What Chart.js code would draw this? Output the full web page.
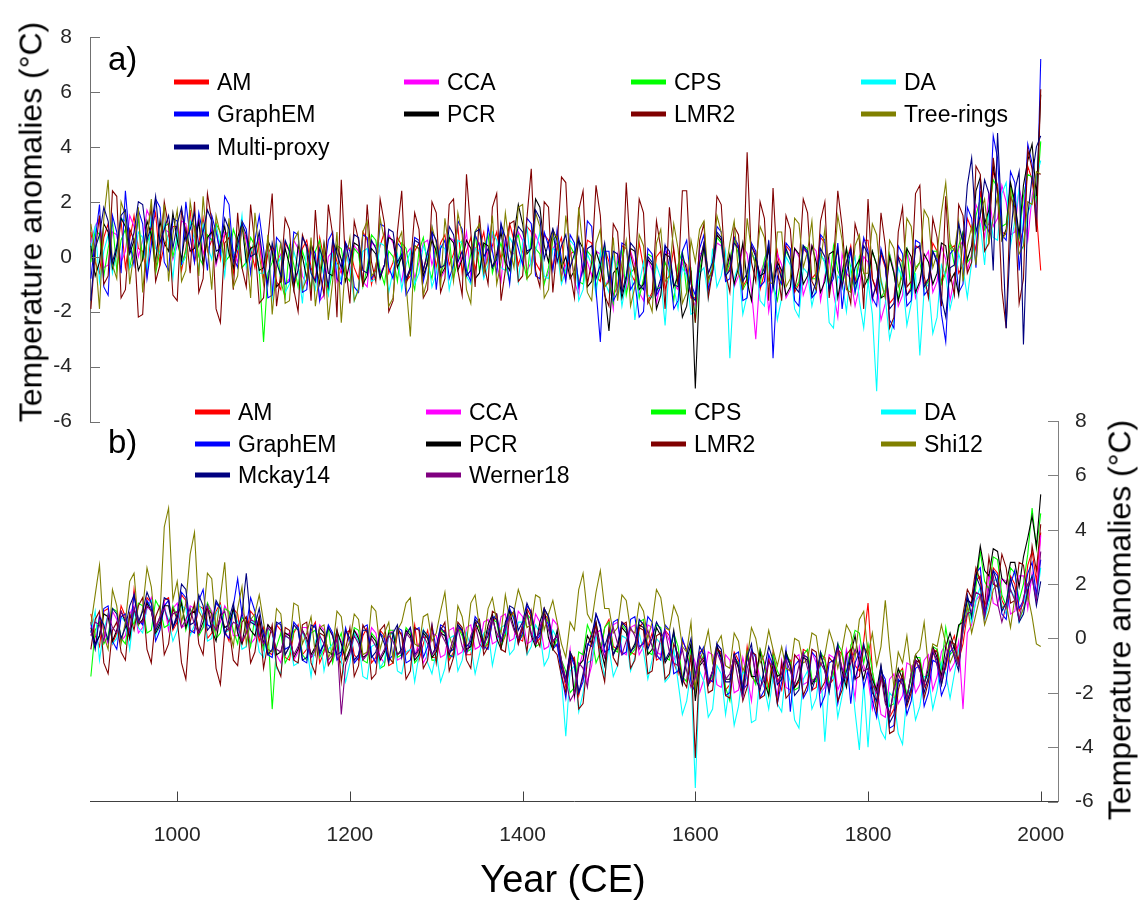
<!DOCTYPE html>
<html lang="en">
<head>
  <meta charset="UTF-8" />
  <title>Temperature anomalies reconstructions</title>
  <script src="https://cdn.jsdelivr.net/npm/chart.js"></script>
  <style>
    body { margin: 0; background: #fff; font-family: "Liberation Sans", Arial, Helvetica, sans-serif; }
    #page { position: relative; width: 1143px; height: 901px; overflow: hidden; }
    #page canvas { position: absolute; left: 0; top: 0; }
    .txt { position: absolute; color: #000; white-space: nowrap; }
    .rot { transform: translate(-50%, -50%) rotate(-90deg); }
    .leg { position: absolute; display: flex; align-items: center; font-size: 23px; color: #000; white-space: nowrap; transform: translateY(-50%); }
    .leg i { display: inline-block; width: 35px; height: 5px; margin-right: 8px; }
  </style>
</head>
<body>
<div id="page">
  <canvas id="chartA" width="1143" height="901"></canvas>
  <canvas id="chartB" width="1143" height="901"></canvas>
  <div class="txt" style="left:108px; top:40px; font-size:33px;">a)</div>
  <div class="txt" style="left:108px; top:423px; font-size:33px;">b)</div>
  <div class="txt rot" style="left:31px; top:222px; font-size:32px;">Temperature anomalies (°C)</div>
  <div class="txt rot" style="left:1120px; top:620px; font-size:32px;">Temperature anomalies (°C)</div>
  <div class="txt" style="left:563px; top:858px; font-size:38px; transform:translateX(-50%);">Year (CE)</div>
</div>

<script>
  // 5-year samples, 900 .. 2000 CE (221 values per series, one row = one century)
  const years = Array.from({ length: 221 }, (_, i) => 900 + 5 * i);
  const xTicks = [1000, 1200, 1400, 1600, 1800, 2000];
  const yTicks = [-6, -4, -2, 0, 2, 4, 6, 8];

  // ---- panel a ----
  const namesA = ['AM', 'CCA', 'CPS', 'DA', 'GraphEM', 'PCR', 'LMR2', 'Tree-rings', 'Multi-proxy'];
  const colorsA = ['#ff0000', '#ff00ff', '#00ff00', '#00ffff', '#0000ff', '#000000', '#800000', '#808000', '#000080'];

  const aAM = [0.9,-0.2,-0.6,0.7,1.2,-0.5,0.1,1.3,-0.4,0.6,1.5,0.3,0.2,-0.7,1.0,1.6,-0.3,0.4,0.8,1.1,
    1.1,-0.5,0.3,1.7,-0.2,0.5,1.4,0.2,0.6,1.2,-0.1,0.8,0.9,-0.6,0.2,1.0,0.7,0.3,-0.4,0.6,
    -0.8,0.1,0.4,-0.9,-1.2,0.5,0.2,-1.1,-0.5,0.3,0.6,-0.4,-0.9,0.7,-0.1,-1.3,0.5,-0.2,-0.6,0.4,
    0.3,-0.4,-0.8,0.9,0.6,-1.0,-0.3,0.4,0.9,-0.6,-0.2,0.7,0.4,-0.9,-0.7,0.2,0.5,-0.5,0.1,0.8,
    -0.4,0.5,0.8,-0.3,0.1,1.1,-0.6,0.2,0.7,-0.5,0.3,0.9,-0.2,0.4,0.9,-0.1,0.4,1.2,0.6,-0.3,
    0.2,1.1,0.9,-0.2,-0.5,0.8,0.6,-0.4,0.3,0.7,-0.8,0.1,0.2,-1.0,-0.4,0.6,0.5,-0.7,-0.9,0.3,
    -0.2,-1.4,-1.1,0.4,0.3,-0.6,-0.9,0.5,-0.4,-1.6,-1.3,0.0,0.2,-1.2,-0.7,0.3,-1.0,-0.1,-0.3,-1.5,
    -1.5,-0.2,0.5,-0.6,-0.3,0.8,0.6,-0.7,-0.4,0.7,0.3,-1.1,-0.8,0.4,0.1,-1.2,-0.6,0.3,-1.0,0.2,
    -0.9,0.4,0.2,-1.3,-1.0,0.3,0.1,-0.8,-0.6,0.7,0.5,-1.2,-0.3,0.2,-1.1,-0.2,0.4,-0.9,-0.2,0.6,
    0.6,-0.8,-1.2,0.1,-0.4,-1.7,-1.5,0.0,-0.2,-1.4,-1.1,0.4,0.3,-1.0,-0.8,0.5,0.2,-0.9,-0.5,0.3,
    0.4,-0.6,-0.3,1.4,1.0,0.2,2.4,1.0,1.2,3.1,2.6,0.9,0.8,2.5,2.1,0.4,1.0,3.3,2.8,1.6,
    -0.5];
  const aCCA = [0.5,1.1,1.4,-0.4,-0.3,0.9,0.8,-0.2,0.2,1.5,1.1,0.0,0.6,1.7,1.3,0.4,0.0,1.0,0.9,-0.1,
    0.4,1.3,1.2,0.2,0.7,1.4,0.1,0.6,1.0,-0.3,0.3,0.9,0.8,0.2,-0.2,1.1,0.6,-0.1,0.3,0.7,
    -0.5,0.4,-1.3,-0.2,0.1,-1.0,-0.8,0.6,0.3,-0.7,-1.0,0.2,-0.2,-1.6,-1.4,0.0,0.2,-0.9,-0.4,0.5,
    -0.6,0.4,0.2,-0.9,-1.1,0.5,0.4,-0.6,-0.3,0.8,0.5,-0.4,-0.9,0.1,0.3,-0.8,-0.2,0.5,0.6,-0.3,
    0.3,-0.8,-0.5,0.7,0.6,-0.4,0.0,0.9,-0.7,0.3,0.5,-0.6,0.2,0.8,-0.3,-0.9,0.7,0.2,0.1,0.9,
    0.6,-0.5,-0.2,0.8,0.4,-0.9,-0.6,0.3,0.5,-0.7,-0.3,0.4,-0.9,-1.4,0.3,-0.2,-0.7,0.2,0.1,-1.1,
    -0.8,-1.9,0.1,-0.4,-1.2,0.2,-0.3,-1.3,-1.6,-0.1,-0.5,-1.7,-0.9,0.2,0.1,-1.0,-1.2,-0.2,-0.6,-1.4,
    -1.8,0.1,0.2,-1.0,-0.6,0.5,0.4,-0.8,0.0,-1.1,-0.7,0.4,0.1,-1.2,-3.0,-0.6,-0.2,-2.0,-0.9,0.1,
    -0.3,-1.5,-1.2,0.3,0.0,-1.4,-0.9,0.4,0.2,-1.6,-0.7,-0.1,-1.3,-2.2,0.1,-0.6,-0.8,-1.8,-1.1,0.0,
    -0.2,-1.6,-0.9,-2.3,-1.7,0.1,-0.5,-1.8,-1.4,0.2,-0.3,-1.5,-1.0,-0.1,0.2,-1.3,-0.9,0.4,-0.1,-1.6,
    -0.8,0.3,0.6,-0.5,0.1,1.9,1.5,0.7,2.3,1.1,1.4,2.6,2.0,0.8,0.9,2.5,1.8,0.6,2.2,3.0,
    3.0];
  const aCPS = [-0.2,1.0,0.8,-0.7,0.3,1.3,-0.5,0.6,1.0,-0.4,0.4,1.4,-0.1,0.5,0.9,-0.6,0.2,1.1,1.2,0.0,
    0.7,-0.3,0.2,1.3,1.1,0.0,-0.3,0.8,0.6,1.2,0.9,-0.2,0.0,1.0,0.5,-0.4,-0.2,0.7,0.4,-0.5,
    -3.1,-0.6,-0.2,0.5,-0.9,-1.5,0.4,-0.3,-1.1,0.2,-0.3,-1.2,0.2,0.6,-0.8,-1.3,-0.5,0.4,0.3,-0.7,
    -0.9,0.3,0.1,-1.1,-0.4,0.8,0.6,-0.5,-1.0,0.2,0.0,-0.9,0.5,0.3,-0.6,-1.2,0.2,0.7,-0.3,-0.8,
    0.4,-0.6,-0.2,0.7,-0.8,-0.1,0.6,-0.7,0.1,0.9,-0.5,0.3,0.8,-0.6,0.0,0.5,-0.3,-0.9,0.5,0.8,
    -0.1,-0.8,0.7,0.3,0.1,-1.0,-0.4,0.6,0.8,-0.3,-0.6,0.4,0.1,-0.9,-1.0,0.2,0.0,-1.1,-0.5,0.4,
    -0.9,-1.7,-0.2,0.3,-1.4,-0.6,-0.4,-1.5,-0.8,0.1,0.0,-1.2,-1.1,-0.2,-0.6,-1.6,-0.3,0.2,-1.3,-0.5,
    -2.4,-0.5,0.3,-0.9,-0.5,0.7,0.5,-0.7,-0.2,0.6,0.1,-1.2,-0.9,0.2,-0.3,-1.0,-0.1,0.4,-1.0,-1.6,
    -0.7,0.2,-0.1,-1.2,-0.9,0.4,0.3,-0.8,-0.8,0.1,-0.2,-1.1,0.4,-0.5,-0.9,0.3,-0.4,-1.3,0.0,-0.6,
    -1.0,0.2,-0.3,-1.5,-1.2,0.1,-0.6,-1.6,-0.1,0.3,-1.3,-0.4,-0.2,-1.1,-0.9,0.2,0.2,-1.0,-0.6,0.5,
    -0.3,0.4,0.9,-0.2,0.0,1.5,2.1,1.0,1.6,2.8,2.5,1.1,1.2,2.6,1.8,0.7,2.2,3.0,2.9,2.0,
    4.2];
  const aDA = [0.3,1.1,-0.9,0.2,0.8,-0.6,0.2,1.4,1.3,-0.4,-0.2,0.9,0.7,-0.5,1.6,0.3,0.1,1.2,0.5,-0.8,
    0.9,-0.3,0.0,1.3,0.6,-0.5,1.2,0.4,-0.1,1.1,0.4,-0.7,1.0,0.1,0.3,1.5,-0.4,0.2,0.6,-0.6,
    -0.6,0.5,-1.5,-0.4,0.0,-1.3,-1.0,0.2,-0.4,-1.7,0.3,-0.6,-1.2,0.1,-0.7,-1.4,0.1,-0.3,-0.9,0.2,
    -0.4,-1.6,-1.1,0.2,0.3,-0.9,-0.8,0.5,0.4,-1.3,-0.5,0.1,-1.2,-0.3,0.2,-1.0,-0.6,0.4,0.0,-1.1,
    -0.6,0.4,0.3,-1.2,-0.4,0.6,0.5,-0.7,-1.0,0.3,0.2,-0.8,-0.3,0.9,0.6,-0.4,-0.5,0.7,0.4,-0.9,
    0.5,1.1,-0.4,0.2,0.9,-0.7,-0.8,0.3,0.2,-1.0,-0.5,0.6,0.4,-1.6,-1.2,0.1,-0.3,-1.4,0.2,-0.9,
    -1.3,0.0,-0.5,-1.8,-0.9,-0.1,-2.3,-1.0,-0.2,-1.4,-1.5,-0.3,-0.8,-2.5,-0.3,-1.1,-1.9,-0.4,-0.7,-2.1,
    -2.0,-0.6,-0.4,-1.5,0.3,-1.1,-0.7,0.2,-3.7,-0.8,-0.3,-2.1,-1.4,0.1,-0.1,-1.6,-1.8,-0.2,-0.8,-2.3,
    -1.5,0.0,-0.3,-1.9,-2.2,-0.4,-0.6,-1.8,-1.1,0.1,-0.2,-2.4,-2.6,-0.7,-0.9,-2.0,-0.4,0.0,-1.6,-2.6,
    -0.9,-2.1,-4.9,-0.8,-1.5,-3.0,-2.3,-0.4,-0.8,-2.5,-1.7,-0.6,-3.6,-1.2,-1.0,-2.8,-2.2,-0.3,-0.7,-1.9,
    -1.2,0.1,-0.4,-1.5,-0.2,0.9,1.2,-0.3,1.8,0.7,0.6,2.3,2.7,0.4,1.3,2.5,0.4,1.6,2.0,2.9,
    3.5];
  const aGraphEM = [-0.8,0.6,1.9,-1.1,-1.4,1.5,0.9,-0.6,2.4,0.5,-0.3,1.7,1.2,-0.8,0.4,2.1,1.8,-0.2,-0.5,1.4,
    1.3,-0.3,2.0,0.7,-0.2,1.6,0.8,-0.5,1.5,0.9,0.1,2.2,1.9,0.0,-0.4,1.3,1.0,-0.6,0.6,1.5,
    0.3,-1.5,-1.4,0.7,0.5,-1.0,-0.9,0.9,0.8,-1.3,-1.2,0.4,0.1,-1.6,-0.6,0.6,0.9,-0.8,-1.0,0.5,
    0.2,-1.1,-1.3,0.8,0.7,-0.8,-0.5,1.2,1.1,-0.4,-0.8,0.5,0.3,-1.4,-1.1,0.7,0.6,-0.9,-0.2,1.0,
    -1.2,0.3,0.6,-0.8,-0.3,1.3,1.0,-0.5,-0.9,0.8,0.4,-0.6,1.1,0.2,-0.6,1.2,0.2,-1.0,0.9,0.3,
    -0.3,1.4,1.2,-0.7,-0.8,0.9,0.4,-0.5,1.0,-0.1,-0.9,0.8,0.5,-1.1,-0.4,1.3,1.1,-1.2,-3.1,0.2,
    0.2,-1.6,-1.3,0.5,0.4,-1.2,-0.9,-2.2,-2.0,0.3,0.1,-1.4,-1.1,0.4,-0.4,-1.9,-1.6,0.2,0.6,-1.0,
    -1.4,0.3,0.8,-1.2,-0.6,1.1,0.9,-0.9,-0.8,0.7,0.4,-1.6,-1.5,0.5,0.2,-1.1,-0.9,0.6,-3.7,-0.7,
    -1.0,0.5,0.3,-1.6,-1.8,0.4,0.1,-1.5,-1.3,0.8,0.6,-1.1,-0.8,0.5,-1.9,-0.6,0.2,-1.3,-0.6,0.7,
    0.2,-1.5,-1.8,0.3,-0.3,-2.3,-2.6,0.4,0.1,-1.8,-1.6,0.6,0.5,-1.4,-1.2,0.2,-0.1,-2.1,-3.1,0.1,
    0.3,-1.3,-1.0,1.8,1.4,-0.4,2.8,1.2,0.9,4.4,3.6,0.8,0.6,3.1,2.7,-0.5,1.2,4.1,3.4,1.1,
    7.2];
  const aPCR = [0.4,-0.7,-0.2,1.2,0.9,-0.4,0.3,1.4,1.1,0.1,0.6,-0.5,-0.1,1.3,0.8,-0.2,1.3,0.5,0.2,1.6,
    0.6,-0.1,1.0,0.2,0.3,1.3,-0.3,0.7,0.9,-0.2,0.5,1.1,0.1,-0.4,0.7,1.2,-0.2,0.3,0.4,-0.5,
    -0.4,0.6,0.2,-1.1,-0.9,0.3,-0.3,-1.2,0.4,0.0,-0.8,0.5,-0.2,-1.0,0.5,-0.6,-0.7,0.4,-0.1,-0.9,
    -0.2,0.5,0.4,-1.0,-0.7,0.3,0.1,-0.8,-0.3,0.7,0.6,-0.4,0.0,-0.9,-0.5,0.4,0.3,-0.7,-0.2,0.6,
    0.2,-0.7,-0.4,0.7,0.5,-0.5,-0.1,0.6,0.3,-0.8,-0.6,0.5,0.4,-0.4,0.1,0.9,-0.2,-0.5,0.8,1.9,
    1.2,0.1,0.3,2.1,1.8,0.4,-0.2,1.0,0.6,-0.4,0.0,-0.8,-0.5,0.6,0.3,-1.1,-0.9,0.2,-0.3,-1.3,
    -2.7,-0.6,-0.4,-1.5,-0.8,0.3,0.2,-1.2,-1.0,-0.1,-0.3,-1.9,-1.4,0.1,0.0,-1.1,-0.7,-2.2,-1.8,-0.5,
    -4.8,-0.9,0.4,-0.8,-0.5,0.8,0.6,-0.6,0.1,-1.0,-0.4,0.5,-0.9,-1.6,0.0,-0.7,-0.6,0.3,-1.0,-0.2,
    -0.5,-1.4,-1.1,0.3,0.1,-1.0,-0.7,0.4,-0.2,-1.3,-0.9,0.1,0.2,-1.5,-0.6,0.3,-1.2,-0.4,-0.1,-1.1,
    -0.8,0.2,-0.3,-1.5,-1.4,0.0,-0.6,-1.6,-1.0,0.3,0.0,-1.3,-0.9,0.1,-0.2,-1.0,-0.6,0.5,0.4,-0.9,
    -0.6,-1.4,0.8,-0.1,0.4,2.4,2.9,1.2,1.7,3.3,2.3,0.6,1.0,2.7,2.0,0.8,2.6,3.5,4.1,2.2,
    5.9];
  const aLMR2 = [-1.9,0.2,1.5,-1.0,-0.7,2.4,2.2,-1.5,-1.2,1.0,0.6,-2.2,-2.1,0.8,1.8,-0.9,-0.3,2.0,1.1,-1.4,
    -1.6,1.7,0.9,-0.6,2.0,-1.3,-0.8,2.3,1.3,-1.9,-2.4,0.5,0.7,-1.2,1.6,-0.4,-1.1,1.9,0.4,-1.7,
    -1.5,0.6,2.3,-1.8,-0.6,1.4,1.0,-1.2,-2.0,0.8,0.3,-1.6,1.7,-0.5,-1.4,1.9,0.8,-2.2,2.8,-0.3,
    -1.7,1.3,0.6,-1.1,1.9,-0.2,-0.9,2.1,1.2,-2.0,-1.6,0.9,2.4,-1.0,-0.4,1.6,1.0,-1.5,-1.2,2.0,
    1.6,-1.3,-0.8,1.9,2.1,-0.5,-1.4,3.0,0.9,-1.1,1.5,-0.2,-1.0,1.8,2.3,-1.6,-0.5,1.2,1.3,-0.9,
    -0.7,1.4,3.2,-0.5,-1.1,2.0,1.8,-1.3,0.4,2.9,2.7,-0.6,-1.5,1.7,2.4,-1.0,-0.2,2.6,1.5,-1.4,
    -1.8,1.2,0.9,-1.3,2.7,0.1,-0.6,2.1,1.6,-1.7,-1.4,1.3,0.3,-1.9,1.8,0.2,-1.0,2.4,2.4,-0.8,
    -2.4,0.6,1.2,-1.5,-0.5,2.2,1.9,-0.6,-1.3,1.1,0.8,-1.2,3.8,-0.2,-0.9,2.0,1.4,-1.6,2.5,-0.4,
    -1.6,1.5,1.0,-1.2,-0.4,2.1,1.6,-0.9,-1.2,1.3,2.0,-1.5,-0.3,2.4,1.1,-1.0,-1.7,1.2,0.6,-1.9,
    2.1,-0.8,-1.3,1.6,0.4,-2.6,-2.2,0.9,1.8,-1.1,-0.9,2.3,2.6,-0.7,-1.5,1.4,0.7,-1.8,2.2,-0.6,
    -1.4,1.9,1.5,-0.6,-0.2,3.3,3.0,0.2,0.5,3.6,2.4,-1.2,-2.6,2.2,1.8,-1.7,-0.8,3.9,3.2,0.9,
    6.1];
  const aTree = [1.2,0.1,-1.9,1.4,2.8,-0.3,-0.8,2.0,1.5,-1.0,0.2,1.8,-1.3,0.6,2.1,-0.5,0.6,1.9,-0.9,0.8,
    1.7,-0.9,-0.5,2.0,1.0,-0.7,2.2,0.4,-1.2,1.5,0.8,-0.3,1.4,-1.1,-0.7,1.2,0.3,-1.5,1.6,0.1,
    -1.0,0.8,-2.1,-0.4,0.5,-1.7,-1.6,0.6,0.9,-1.2,-0.8,0.7,-1.8,-0.6,0.4,-2.3,-0.9,0.9,-2.4,-0.2,
    0.7,-1.6,-1.2,0.9,1.3,-0.7,-0.5,1.4,0.6,-1.8,-1.5,0.5,0.9,-1.0,-2.9,0.4,0.3,-1.4,-0.8,1.1,
    0.5,-1.1,1.4,0.2,-0.9,1.6,0.8,-1.2,-1.7,0.9,1.2,-0.6,0.0,1.5,-1.0,-0.2,1.6,0.3,-0.4,1.8,
    1.9,-0.8,-0.6,1.6,1.1,-1.5,-1.2,0.9,0.7,-0.9,1.5,0.3,-0.8,1.8,0.2,-1.3,-1.6,0.5,1.0,-1.1,
    -0.9,0.7,-1.6,-0.2,0.6,-1.8,-1.1,0.8,0.4,-1.5,-2.0,0.5,1.0,-0.9,-0.7,1.2,0.3,-1.7,-1.3,0.6,
    -0.2,1.0,1.3,-0.9,-0.4,1.5,0.9,-0.6,0.5,1.3,-0.6,-1.1,1.4,0.2,-0.3,1.1,0.7,-0.9,-1.0,0.9,
    0.9,-1.1,-0.8,1.4,1.2,-0.4,0.2,1.3,-1.1,-0.2,1.0,-0.9,-0.5,1.5,0.6,-1.2,-1.3,0.4,0.8,-0.6,
    -0.6,1.2,0.8,-0.9,-1.5,0.6,0.3,-1.1,-0.7,1.4,1.1,-0.5,-0.2,1.7,1.4,-0.4,0.1,1.6,2.7,0.5,
    0.2,1.3,-0.9,0.4,1.1,-0.3,1.6,2.1,0.5,1.4,2.2,0.6,0.9,2.4,1.3,0.1,0.4,2.0,1.9,3.1,
    3.0];
  const aMulti = [-1.6,0.3,0.8,1.8,1.3,-0.2,0.4,1.5,1.7,0.2,0.9,2.0,1.9,0.6,1.1,2.2,0.5,1.0,1.5,0.3,
    1.2,1.8,0.6,1.0,1.6,0.4,0.9,1.7,1.3,0.2,0.3,1.4,1.0,-0.2,0.4,1.2,0.8,0.0,0.1,0.9,
    -0.3,-1.0,0.5,-0.2,-0.7,0.6,0.2,-0.9,-0.5,0.7,0.4,-0.6,-0.9,0.3,-0.2,-1.1,0.6,0.1,-0.4,0.5,
    -0.2,0.8,0.7,-0.5,-0.6,0.6,0.3,-0.7,-0.3,1.0,0.9,-0.2,0.1,-0.8,-0.4,0.6,0.5,-0.5,0.2,0.9,
    0.6,-0.4,-0.3,1.1,0.8,-0.2,0.2,-0.7,-0.5,0.9,1.0,0.0,0.3,-0.4,-0.1,1.2,0.7,-0.3,0.4,1.1,
    0.9,0.2,0.3,1.7,1.4,-0.1,0.5,1.0,-0.2,0.4,0.8,-0.4,0.1,0.7,-0.6,0.3,0.4,-0.8,-0.3,0.5,
    -0.9,0.2,0.1,-1.3,-0.7,0.5,0.3,-1.0,-1.2,0.0,-0.2,-1.3,-0.8,0.4,0.2,-1.0,-1.1,0.1,-0.5,-1.4,
    -1.6,-0.2,0.5,-0.6,-0.2,0.9,0.7,-0.7,-0.5,0.5,0.3,-0.9,-0.6,0.4,0.0,-0.8,-0.4,0.5,-1.2,-0.3,
    -0.8,0.3,-0.1,-1.1,-1.3,0.4,0.2,-1.4,-0.9,0.3,0.0,-1.2,-0.5,0.3,-1.1,-0.2,0.3,-1.0,-0.7,0.4,
    0.1,-1.5,-1.0,0.2,-0.3,-1.9,-1.7,0.0,-0.6,-1.4,-1.2,0.3,0.4,-1.1,-0.8,0.2,-0.2,-1.5,-2.2,-0.4,
    -0.3,1.2,0.5,2.6,3.6,0.9,1.5,2.8,2.3,-0.5,4.5,1.3,-2.6,0.7,2.4,3.1,-3.2,1.5,2.9,4.0,
    4.4];
  const valuesA = [aAM, aCCA, aCPS, aDA, aGraphEM, aPCR, aLMR2, aTree, aMulti];

  // ---- panel b ----
  const namesB = ['AM', 'CCA', 'CPS', 'DA', 'GraphEM', 'PCR', 'LMR2', 'Shi12', 'Mckay14', 'Werner18'];
  const colorsB = ['#ff0000', '#ff00ff', '#00ff00', '#00ffff', '#0000ff', '#000000', '#800000', '#808000', '#000080', '#800080'];

  const bAM = [0.9,0.1,-0.3,1.0,1.1,-0.2,0.2,1.2,0.8,0.0,1.8,0.6,0.6,1.5,1.3,0.2,0.4,1.4,1.5,0.3,
    0.6,1.6,1.4,0.2,0.3,1.2,1.1,0.0,0.2,1.0,1.3,0.3,-0.1,1.1,0.9,-0.2,0.2,1.0,0.8,-0.1,
    0.4,-0.5,-0.6,0.5,0.3,-0.7,-0.8,0.2,0.5,-0.6,-0.4,0.3,0.6,-0.9,-0.5,0.4,0.1,-0.7,-0.9,0.2,
    0.3,-0.6,-0.8,0.1,0.4,-0.9,-0.7,0.3,0.1,-1.0,-0.9,0.2,0.2,-0.6,-0.4,0.5,-0.8,-0.2,0.3,-0.7,
    -0.7,0.2,0.3,-0.8,-0.5,0.4,0.2,-0.6,-0.6,0.3,0.5,-0.4,-0.2,0.6,0.8,-0.3,0.1,1.0,0.9,0.0,
    -0.1,1.1,0.8,-0.2,0.0,0.9,0.7,-0.1,-0.3,-1.0,-1.8,-0.9,-0.7,-2.1,-1.4,-0.3,0.2,0.6,-0.6,0.4,
    0.7,-0.3,-0.4,0.6,0.5,-0.5,-0.6,0.4,0.6,-0.3,0.2,-0.8,-0.7,0.3,0.1,-0.9,-1.3,-0.1,-0.4,-1.5,
    -1.8,-0.5,-0.4,-1.7,-1.5,-0.3,-0.6,-1.9,-1.7,-0.5,-0.8,-1.8,-0.3,-1.4,-1.6,-0.4,-0.9,-1.8,-0.5,-1.5,
    -1.9,-0.7,-0.8,-1.8,-1.6,-0.4,-0.5,-1.9,-1.8,-0.6,-0.7,-1.7,-1.5,-0.4,-0.6,-1.6,-0.3,-1.0,-1.2,-0.1,
    1.3,-1.2,-2.4,-1.5,-1.8,-2.9,-2.6,-1.3,-1.1,-2.3,-1.9,-0.9,-0.8,-1.8,-1.5,-0.6,-0.4,-1.4,-1.1,-0.3,
    0.1,-0.8,-0.2,0.9,1.4,2.1,2.3,1.2,1.6,2.6,2.4,1.4,1.1,2.3,2.0,1.0,1.3,2.7,3.2,2.1,
    3.9];
  const bCCA = [0.5,-0.3,0.9,0.3,-0.2,1.0,0.7,-0.1,0.1,0.9,1.2,0.2,0.4,1.1,1.5,0.5,0.7,1.3,0.3,1.1,
    1.3,0.4,0.5,1.2,1.1,0.2,0.4,1.3,1.0,0.3,0.6,1.2,0.9,0.1,0.1,1.0,0.7,-0.2,0.0,0.8,
    -0.4,0.5,0.3,-0.6,-0.9,0.1,0.2,-0.8,-0.5,0.4,0.4,-0.7,-0.6,0.5,0.3,-0.9,-0.8,0.2,-0.1,-0.7,
    -0.6,0.3,0.1,-0.8,-0.5,0.4,0.2,-0.7,-0.9,0.1,0.3,-0.8,-0.7,0.2,0.4,-0.6,-0.2,-0.9,-0.6,0.2,
    0.1,-0.7,-0.6,0.3,0.4,-0.6,-0.5,0.4,0.5,-0.4,-0.3,0.6,0.7,-0.2,-0.1,0.8,0.9,-0.1,0.0,1.0,
    0.8,-0.2,-0.1,0.9,0.6,-0.4,-0.3,0.7,0.5,-1.1,-1.6,-0.4,-2.2,-1.1,-0.5,-1.6,-1.0,0.2,0.3,-0.7,
    -0.4,0.5,0.6,-0.5,-0.6,0.4,0.5,-0.6,-0.3,0.5,0.4,-0.5,-0.6,0.3,-0.1,-0.8,-0.5,-1.6,-1.5,-0.4,
    -0.9,-2.0,-1.5,-0.5,-0.6,-1.7,-1.8,-0.6,-0.8,-2.0,-1.9,-0.7,-1.4,-2.3,-0.7,-1.5,-1.8,-0.6,-1.5,-2.1,
    -0.8,-1.8,-1.9,-0.7,-0.6,-1.7,-1.6,-0.5,-0.9,-2.0,-1.8,-0.6,-0.7,-1.9,-1.5,-0.4,-1.2,-2.2,-0.3,-1.0,
    -1.5,-2.6,-1.7,-2.8,-2.9,-1.5,-1.3,-2.4,-2.1,-0.9,-1.0,-2.0,-1.7,-0.8,-0.6,-1.9,-1.4,-0.5,-0.2,-1.2,
    -0.9,-0.1,-2.6,0.2,0.5,1.4,1.6,0.6,2.4,1.3,1.2,2.2,2.1,0.9,1.0,2.3,2.3,1.1,2.4,1.5,
    3.8];
  const bCPS = [-1.4,0.3,0.6,-0.2,0.1,1.1,1.0,0.0,-0.2,0.9,0.5,1.3,1.2,0.2,0.3,1.4,1.1,0.4,0.5,1.2,
    0.8,1.4,0.3,0.9,1.2,0.1,0.4,1.3,0.9,0.0,0.2,1.1,1.0,0.3,-0.2,0.8,0.5,-0.3,0.8,0.2,
    -0.4,0.4,-2.6,-0.3,0.2,-0.9,-0.6,0.3,0.4,-0.6,-0.8,0.2,0.3,-0.7,-0.4,0.4,-0.9,-0.2,0.2,-0.8,
    -0.5,0.4,0.3,-0.8,-0.9,0.2,0.0,-1.1,-1.0,0.3,0.3,-0.7,-0.6,0.4,0.2,-0.9,-0.7,0.3,0.1,-0.8,
    -0.8,0.3,0.2,-0.7,-0.6,0.4,0.1,-0.5,-0.4,0.5,0.4,-0.4,-0.1,0.7,0.6,-0.3,0.2,1.0,0.8,-0.1,
    0.1,0.9,0.7,-0.3,-0.2,0.8,0.6,-0.4,0.0,-0.8,-1.2,-2.0,-1.8,-0.5,-0.6,0.5,0.1,-0.9,-0.5,0.4,
    0.6,-0.4,-0.5,0.5,0.3,-0.6,-0.4,0.6,0.7,-0.5,-0.6,0.5,0.4,-0.7,-0.8,0.2,-0.3,-1.4,-1.6,-0.3,
    -2.1,-0.9,-0.6,-1.6,-1.4,-0.4,-0.7,-1.8,-2.3,-0.7,-0.9,-2.0,-0.5,-1.3,-1.7,-0.4,-1.0,-2.1,-0.6,-1.2,
    -1.5,-0.5,-0.9,-1.9,-1.8,-0.6,-0.4,-1.5,-1.6,-0.5,-0.8,-1.7,-1.3,-0.2,-0.5,-1.4,-0.3,0.3,0.2,-0.9,
    -0.2,-1.2,-2.0,-1.4,-1.6,-2.5,-2.4,-1.2,-1.2,-2.1,-1.5,-0.7,-0.7,-1.6,-1.3,-0.3,-0.4,-1.1,0.4,-0.6,
    -0.4,0.4,0.8,1.5,0.7,1.9,3.2,2.1,1.8,3.0,2.9,1.6,1.2,2.6,2.4,1.4,2.0,3.1,4.8,3.3,
    4.6];
  const bDA = [0.2,1.0,-0.8,0.3,0.9,-0.2,0.0,0.8,0.6,-0.4,1.0,0.4,0.2,1.2,1.4,0.1,0.5,1.1,0.7,-0.1,
    0.3,1.2,1.1,0.1,0.5,1.3,0.8,-0.1,0.0,0.9,1.2,0.2,0.3,1.0,0.6,-0.4,-0.3,0.7,0.5,-0.5,
    -0.7,0.4,0.2,-1.1,-1.3,0.1,0.0,-1.0,-0.9,0.3,-0.3,-1.4,-0.1,0.2,-1.2,-0.4,-0.2,0.3,-0.8,-1.6,
    -0.9,0.2,-0.1,-1.4,-1.5,-0.3,-0.2,-1.1,-0.8,0.1,0.2,-1.2,-1.3,-0.5,-0.4,-1.6,-0.6,0.3,-0.9,-1.3,
    -0.5,-1.6,-1.1,0.0,0.1,-1.2,-0.8,0.2,-0.3,-1.3,-0.6,0.2,0.3,-1.0,-0.2,0.4,0.5,-0.6,-0.4,0.6,
    0.6,-0.6,-0.3,0.5,0.2,-1.0,-0.7,0.3,0.0,-1.5,-3.6,-1.2,-1.0,-2.7,-2.0,-0.9,-0.8,0.1,-0.6,-1.4,
    -0.3,-1.4,-1.0,0.1,0.0,-1.2,-0.7,0.2,-0.5,-1.5,-0.8,0.0,-0.2,-1.6,-1.4,-0.4,-1.6,-2.8,-2.3,-1.2,
    -5.5,-1.2,-1.6,-2.9,-2.6,-1.0,-1.3,-2.8,-1.7,-3.2,-2.5,-1.2,-1.5,-3.1,-3.0,-1.4,-1.8,-2.6,-1.4,-2.4,
    -2.7,-1.1,-1.6,-3.0,-3.3,-1.5,-1.2,-2.6,-2.2,-1.0,-3.8,-1.6,-1.4,-2.9,-2.1,-1.3,-1.0,-2.7,-4.1,-1.6,
    -4.0,-1.5,-2.6,-3.4,-3.7,-2.0,-2.2,-3.5,-3.9,-2.1,-1.8,-3.0,-2.5,-1.4,-1.4,-2.6,-1.9,-0.9,-1.3,-2.2,
    -1.3,-0.4,0.2,1.1,0.6,1.4,1.9,0.7,1.3,2.1,2.2,1.2,0.9,1.8,1.5,0.6,1.1,2.0,2.3,1.4,
    2.6];
  const bGraphEM = [0.6,-0.3,0.1,1.1,1.2,-0.1,-0.4,0.8,0.9,0.2,1.6,0.7,0.5,1.4,1.1,-0.1,0.3,1.2,1.4,0.4,
    0.7,1.7,1.5,0.3,0.2,1.4,1.8,0.5,0.4,1.3,1.1,0.2,0.0,1.2,2.2,0.9,0.4,1.5,1.0,0.1,
    0.3,-0.6,-0.7,0.5,0.6,-0.4,-0.3,0.6,0.4,-0.8,-0.9,0.3,0.5,-0.6,-0.2,0.5,0.2,-0.8,-0.6,0.4,
    -0.2,-0.9,-0.7,0.4,0.5,-0.6,-0.9,0.2,0.0,-0.8,-0.6,0.4,0.3,-0.9,-0.8,0.3,0.4,-0.7,-0.3,0.5,
    -0.4,0.5,0.4,-0.6,-0.7,0.4,0.3,-0.5,-0.2,0.8,0.6,-0.3,-0.4,0.7,0.9,-0.1,0.3,1.1,0.7,-0.2,
    0.2,1.2,1.0,-0.1,0.1,0.8,0.5,-0.4,-0.2,-1.3,-2.2,-0.6,-1.0,-2.0,-1.6,-0.2,-0.3,0.9,0.5,-0.5,
    -0.4,0.6,0.7,-0.6,-0.5,0.7,0.8,-0.3,-0.2,0.8,0.6,-0.6,-0.8,0.5,0.3,-1.3,-1.2,0.0,-0.5,-1.6,
    -2.0,-0.6,-0.3,-1.5,-1.6,-0.2,-0.9,-2.1,-2.0,-0.6,-0.5,-1.9,-1.7,-0.4,-0.7,-2.2,-1.9,-0.6,-1.0,-2.4,
    -1.6,-0.4,-2.7,-1.0,-0.8,-2.2,-1.9,-0.5,-0.7,-2.5,-2.1,-0.9,-0.8,-2.4,-1.6,-0.6,-2.4,-0.9,-0.5,-1.8,
    -1.2,-2.3,-2.9,-1.2,-1.5,-3.3,-3.2,-1.5,-1.7,-2.8,-2.3,-1.1,-1.0,-2.5,-2.0,-0.8,-0.9,-2.1,-1.7,-0.5,
    -0.3,-1.0,0.6,1.5,1.2,2.4,2.6,1.0,1.5,2.5,2.3,0.9,0.7,2.0,2.5,1.1,1.4,2.4,2.8,1.6,
    2.9];
  const bPCR = [0.4,-0.2,0.1,0.9,0.8,-0.1,0.3,1.0,0.6,0.0,1.1,0.5,0.7,1.3,1.0,0.2,0.5,1.2,1.2,0.4,
    0.8,1.3,0.4,0.9,1.0,0.2,0.6,1.2,0.3,-0.1,0.9,0.4,0.5,1.1,0.2,-0.2,0.7,0.3,0.1,0.8,
    -0.2,0.5,0.3,-0.6,-0.5,0.2,0.1,-0.7,-0.4,0.3,0.0,-0.6,-0.3,0.4,0.2,-0.5,-0.6,0.3,-0.2,-0.8,
    -0.4,0.3,0.0,-0.7,-0.6,0.1,-0.1,-0.8,-0.5,0.2,0.2,-0.6,-0.4,0.3,0.1,-0.8,-0.6,0.2,0.0,-0.7,
    -0.5,0.2,0.1,-0.6,-0.2,0.5,0.3,-0.4,-0.3,0.6,0.2,-0.3,0.5,0.9,0.0,-0.4,0.6,1.0,0.4,-0.1,
    0.5,1.0,0.1,-0.3,0.6,1.1,0.0,-0.4,0.3,-0.9,-1.5,-0.6,-2.1,-1.0,-0.8,0.1,-0.2,0.6,-0.3,-1.0,
    0.3,-0.6,-0.3,0.4,0.2,-0.5,-0.2,0.5,0.4,-0.6,-0.4,0.4,0.1,-0.9,-0.6,0.3,-1.0,-1.7,-0.8,-0.2,
    -2.3,-1.0,-0.8,-1.7,-1.2,-0.3,-0.7,-1.5,-1.5,-0.6,-1.1,-2.0,-0.6,-1.4,-1.4,-0.5,-1.6,-2.1,-0.9,-1.4,
    -1.3,-0.5,-1.0,-1.8,-1.5,-0.7,-0.8,-1.7,-1.4,-0.6,-1.1,-1.9,-0.9,-0.3,-1.2,-1.8,-0.6,0.1,-0.9,-1.5,
    -0.8,-1.5,-1.9,-1.0,-2.3,-2.8,-1.8,-1.1,-1.5,-2.2,-1.3,-0.6,-0.9,-1.7,-1.1,-0.3,-0.7,-1.4,-0.3,0.2,
    -0.4,0.5,0.6,1.4,1.3,2.2,3.4,2.5,2.3,3.3,3.2,2.2,2.0,2.8,2.8,1.9,3.0,3.7,4.5,3.4,
    5.3];
  const bLMR2 = [-0.4,0.7,1.0,-0.9,-1.3,0.3,0.6,-0.5,-0.8,0.9,0.3,1.2,1.5,-0.4,-0.9,0.8,1.2,-0.6,-0.2,1.1,
    0.7,-0.9,-1.5,0.6,1.3,-0.2,-0.6,1.1,0.9,-1.1,-1.7,0.2,0.4,-0.8,-1.0,0.6,0.8,-0.9,-0.5,0.7,
    -1.1,-0.2,0.5,-1.0,-1.4,0.4,0.3,-0.8,-0.9,0.5,0.6,-0.9,-1.3,0.2,0.1,-1.0,-0.7,0.3,-1.6,-0.4,
    0.4,-1.4,-1.0,0.5,0.2,-1.5,-1.3,0.3,0.5,-0.7,-0.9,0.4,0.1,-1.5,-1.2,0.4,0.3,-1.1,-0.8,0.5,
    -0.9,0.3,0.6,-1.2,-0.7,0.6,0.4,-0.8,-1.1,0.5,0.7,-0.6,-0.3,1.0,0.9,-0.4,-0.5,0.8,1.0,-0.2,
    0.4,-0.5,1.0,0.1,-0.3,1.1,0.8,-0.4,-0.6,-1.4,-2.0,-0.5,-0.8,-2.6,-2.4,-0.8,-0.1,0.5,-0.9,-1.6,
    0.4,-0.7,-1.0,0.5,0.6,-1.1,-0.8,0.4,0.3,-1.3,-1.2,0.1,0.2,-1.5,-1.3,-0.2,-0.6,-1.5,-1.8,-0.6,
    -4.4,-0.9,-0.7,-2.0,-1.9,-0.4,-0.5,-2.1,-2.2,-0.8,-1.0,-2.3,-1.8,-0.5,-0.6,-2.2,-2.1,-0.8,-1.3,-2.4,
    -0.9,-2.2,-2.0,-0.6,-0.8,-2.1,-1.7,-0.4,-0.5,-1.9,-1.6,-0.7,-0.9,-2.3,-1.9,-0.6,-0.4,-1.5,-1.4,-0.3,
    -0.6,-1.8,-2.7,-1.4,-1.7,-3.5,-3.4,-1.9,-1.3,-2.5,-2.0,-0.8,-0.9,-2.2,-1.6,-0.4,-0.5,-1.7,-1.0,-0.1,
    -0.2,-0.9,0.9,1.8,1.5,2.6,2.1,1.2,3.0,2.0,1.9,3.1,2.6,1.3,1.4,2.8,2.7,1.5,3.4,2.5,
    4.2];
  const bShi12 = [0.5,1.6,2.7,0.1,-0.4,1.8,1.2,-0.2,0.6,2.1,2.4,0.5,1.1,2.6,1.9,0.3,0.8,4.1,4.8,1.4,
    2.1,0.6,1.3,3.1,3.9,1.0,0.7,2.4,2.2,0.3,1.5,2.8,0.4,-0.3,1.1,1.9,-0.2,0.7,0.9,1.6,
    0.6,-0.4,-0.5,1.1,0.9,-0.6,-0.3,1.3,1.2,-0.2,0.2,0.8,-0.6,0.4,0.5,-0.7,-0.4,1.0,0.8,-0.5,
    -0.1,0.9,0.7,-0.6,-0.5,1.2,1.0,-0.4,0.2,0.6,-0.8,0.3,0.6,1.3,1.5,-0.2,-0.3,0.8,0.9,-0.1,
    0.2,1.0,1.7,0.1,-0.4,1.2,0.8,-0.2,1.3,1.6,0.4,-0.1,1.1,1.5,0.6,0.2,1.6,0.7,1.0,1.8,
    1.3,0.4,0.5,1.6,1.5,0.3,0.9,1.4,0.6,-0.2,-0.7,0.6,0.3,1.8,2.4,0.9,0.6,1.7,2.5,1.1,
    1.1,0.2,0.4,1.6,1.4,0.3,0.2,1.3,1.0,0.0,0.6,1.8,1.5,0.4,0.3,1.2,0.8,-0.3,-0.5,0.6,
    -1.9,-0.8,-0.4,0.3,-0.9,-0.2,0.1,-1.0,-1.1,0.2,-0.1,-1.2,-0.8,0.4,0.0,-0.9,-0.6,0.3,-0.4,-1.0,
    -0.3,-1.1,-1.2,0.0,-0.1,-0.9,-0.8,0.2,0.1,-1.0,-0.6,0.3,-0.2,-1.1,-0.4,0.5,0.2,-0.7,0.7,1.0,
    -0.6,0.2,-1.0,-0.3,1.4,-0.4,-1.8,-0.5,-0.9,0.1,-1.3,-0.6,-0.4,0.6,-1.1,-0.2,-0.3,0.5,-0.2,-0.9,
    -0.5,-1.0,0.3,1.2,0.2,0.9,1.6,0.5,1.0,1.8,2.0,1.1,1.3,0.4,1.5,0.7,1.1,1.6,0.8,-0.2,
    -0.3];
  const bMckay14 = [0.3,-0.4,0.8,0.5,-0.1,1.1,0.9,0.0,0.4,1.2,1.6,0.6,1.0,1.7,1.3,0.3,0.6,1.5,1.4,0.4,
    0.9,2.0,1.8,0.5,0.6,1.6,1.2,0.3,0.5,1.4,1.1,0.1,0.7,1.3,0.3,0.9,2.4,0.6,0.5,1.1,
    0.1,-0.6,-0.4,0.6,0.5,-0.6,-0.3,0.5,0.3,-0.8,-0.7,0.5,0.4,-0.5,-0.2,0.4,0.1,-0.6,-0.5,0.3,
    0.0,-0.8,-0.6,0.3,0.3,-0.7,-0.5,0.2,-0.2,-0.9,0.2,0.5,-0.7,0.1,0.4,-0.6,-0.4,0.3,0.1,-0.6,
    -0.3,0.4,0.2,-0.5,-0.4,0.5,0.3,-0.3,-0.1,0.7,0.5,-0.2,0.1,0.8,0.7,-0.1,0.5,1.2,1.1,0.3,
    0.6,1.3,0.9,0.0,0.2,1.1,0.8,-0.1,0.1,-1.1,-1.6,-0.5,-0.9,-2.0,-1.3,-0.3,0.1,0.9,0.4,-0.3,
    0.2,-0.6,-0.2,0.6,0.4,-0.5,-0.3,0.7,0.5,-0.4,0.0,0.6,0.3,-0.8,-0.5,0.2,-0.9,-1.6,-0.6,0.0,
    -1.4,-0.3,-0.6,-1.7,-1.2,-0.2,-0.4,-1.6,-1.6,-0.6,-1.0,-2.0,-0.7,-0.2,-1.5,-1.9,-1.1,-0.3,-0.8,-1.7,
    -1.5,-0.6,-1.0,-2.1,-1.9,-0.6,-0.7,-1.9,-1.4,-0.5,-1.2,-2.0,-0.9,-0.2,-1.7,-1.2,-0.6,-1.5,-0.9,-0.2,
    -1.0,-2.0,-2.3,-1.0,-1.9,-3.1,-2.8,-1.6,-1.5,-2.4,-1.8,-0.8,-1.1,-2.0,-1.4,-0.5,-0.8,-1.7,-0.9,-0.1,
    -0.7,-1.2,0.5,1.6,0.8,2.3,1.9,0.8,1.6,2.5,2.0,1.0,1.3,2.2,1.7,0.6,0.9,1.8,2.3,1.2,
    2.1];
  const bWerner18 = [0.1,0.6,0.5,-0.1,0.9,0.4,0.2,1.0,0.7,0.3,1.1,0.6,0.6,1.2,1.0,0.4,0.8,1.1,0.6,0.9,
    1.0,0.4,0.7,1.1,0.5,0.2,0.9,1.2,0.6,0.3,0.8,1.0,0.3,0.6,0.5,-0.1,0.2,0.7,0.6,0.1,
    -0.2,0.4,0.2,-0.4,-0.5,0.1,0.0,-0.6,-0.3,0.3,-0.1,-0.7,-0.4,0.1,-0.2,-0.8,-0.6,0.0,-2.8,-1.0,
    -0.5,0.1,-0.2,-0.8,-0.6,0.0,-0.3,-0.7,-0.4,0.1,-0.1,-0.6,-0.5,0.2,0.0,-0.7,-0.4,0.1,-0.2,-0.6,
    -0.4,0.2,-0.1,-0.5,0.0,0.4,-0.3,-0.6,0.1,0.5,-0.2,-0.4,0.3,0.7,0.2,-0.1,0.4,0.8,0.3,0.0,
    0.5,0.9,0.2,-0.2,0.4,0.8,0.3,-0.1,0.1,-0.8,-1.5,-2.3,-2.0,-0.9,-1.1,-1.8,-0.5,0.3,-0.2,-0.7,
    0.0,0.4,-0.2,-0.6,-0.1,0.4,0.1,-0.4,-0.1,0.3,-0.3,-0.7,0.0,0.3,-0.5,-0.9,-1.0,-0.4,-1.2,-1.8,
    -1.4,-0.6,-1.0,-1.6,-1.2,-0.5,-0.9,-1.5,-1.3,-0.7,-1.6,-2.2,-1.1,-0.5,-1.3,-1.8,-1.5,-0.9,-1.0,-1.6,
    -1.3,-0.8,-1.2,-1.7,-1.0,-0.5,-1.1,-1.6,-1.4,-0.9,-1.2,-1.8,-1.0,-0.4,-1.1,-1.5,-0.9,-0.4,-0.7,-1.2,
    -1.1,-1.7,-2.0,-1.4,-2.4,-2.8,-1.9,-1.3,-1.7,-2.2,-1.3,-0.8,-1.2,-1.7,-0.9,-0.4,-1.0,-1.5,-0.7,-0.2,
    -0.6,-1.0,0.3,0.9,1.0,1.7,1.6,0.8,1.9,2.3,1.3,0.6,1.2,1.8,1.4,0.7,1.5,2.0,2.2,1.4,
    3.2];
  const valuesB = [bAM, bCCA, bCPS, bDA, bGraphEM, bPCR, bLMR2, bShi12, bMckay14, bWerner18];

  // ---- layout ----
  const X_MIN = 899, X_MAX = 2020;
  const PLOT_LEFT = 90, PLOT_RIGHT = 1058;
  const A_TOP = 37, A_BOTTOM = 421.5;
  const B_TOP = 421, B_BOTTOM = 801.5;
  const legendA = { cols: [174, 404, 631, 861], rows: [82, 114, 147] };
  const legendB = { cols: [195, 426, 651, 881], rows: [412, 444, 475] };

  Chart.defaults.font.family = '"Liberation Sans", Arial, Helvetica, sans-serif';
  Chart.defaults.color = '#262626';

  // MATLAB style ticks pointing into the plot
  const inwardTicks = {
    id: 'inwardTicks',
    afterDraw(chart, args, opts) {
      const ctx = chart.ctx, a = chart.chartArea;
      ctx.save();
      ctx.lineWidth = 1;
      opts.axes.forEach(ax => {
        const s = chart.scales[ax.id];
        ctx.strokeStyle = ax.color;
        s.ticks.forEach(t => {
          const p = Math.round(s.getPixelForValue(t.value)) + 0.5;
          ctx.beginPath();
          if (ax.side === 'left') { ctx.moveTo(a.left, p); ctx.lineTo(a.left + 10, p); }
          if (ax.side === 'right') { ctx.moveTo(a.right, p); ctx.lineTo(a.right - 10, p); }
          if (ax.side === 'bottom') { ctx.moveTo(p, a.bottom); ctx.lineTo(p, a.bottom - 10); }
          ctx.stroke();
        });
      });
      ctx.restore();
    }
  };

  function makeDatasets(names, colors, values) {
    const n = names.length;
    return names.map((name, i) => ({
      label: name,
      data: values[i].map((v, k) => ({ x: years[k], y: v })),
      borderColor: colors[i],
      borderWidth: 1.1,
      pointRadius: 0,
      tension: 0,
      order: n - i   // later series drawn on top, as in the original
    }));
  }

  function setTicks(list) {
    return s => { s.ticks = list.map(v => ({ value: v })); };
  }

  new Chart(document.getElementById('chartA'), {
    type: 'line',
    data: { datasets: makeDatasets(namesA, colorsA, valuesA) },
    plugins: [inwardTicks],
    options: {
      responsive: false,
      animation: false,
      layout: { padding: { left: 0, top: A_TOP, right: 1143 - PLOT_RIGHT, bottom: 901 - A_BOTTOM } },
      plugins: {
        legend: { display: false },
        tooltip: { enabled: false },
        inwardTicks: { axes: [{ id: 'y', side: 'left', color: '#707070' }] }
      },
      scales: {
        x: { type: 'linear', display: false, min: X_MIN, max: X_MAX },
        y: {
          position: 'left', min: -6, max: 8,
          afterBuildTicks: setTicks(yTicks),
          afterFit: s => { s.width = PLOT_LEFT; },
          grid: { display: false },
          border: { display: true, color: '#707070', width: 1 },
          ticks: { font: { size: 21 }, padding: 10, color: '#262626' }
        }
      }
    }
  });

  new Chart(document.getElementById('chartB'), {
    type: 'line',
    data: { datasets: makeDatasets(namesB, colorsB, valuesB) },
    plugins: [inwardTicks],
    options: {
      responsive: false,
      animation: false,
      layout: { padding: { left: PLOT_LEFT, top: B_TOP, right: 0, bottom: 0 } },
      plugins: {
        legend: { display: false },
        tooltip: { enabled: false },
        inwardTicks: { axes: [{ id: 'y', side: 'right', color: '#808080' }, { id: 'x', side: 'bottom', color: '#404040' }] }
      },
      scales: {
        x: {
          type: 'linear', position: 'bottom', min: X_MIN, max: X_MAX,
          afterBuildTicks: setTicks(xTicks),
          afterFit: s => { s.height = 901 - B_BOTTOM; },
          grid: { display: false },
          border: { display: true, color: '#404040', width: 1 },
          ticks: { font: { size: 21 }, padding: 13, color: '#262626', maxRotation: 0, callback: v => String(v) }
        },
        y: {
          position: 'right', min: -6, max: 8,
          afterBuildTicks: setTicks(yTicks),
          afterFit: s => { s.width = 1143 - PLOT_RIGHT; },
          grid: { display: false },
          border: { display: true, color: '#808080', width: 1 },
          ticks: { font: { size: 21 }, padding: 9, color: '#262626' }
        }
      }
    }
  });

  // legends as a 4-column grid inside each panel
  function buildLegend(names, colors, grid) {
    const page = document.getElementById('page');
    names.forEach((name, i) => {
      const el = document.createElement('div');
      el.className = 'leg';
      el.style.left = grid.cols[i % 4] + 'px';
      el.style.top = grid.rows[Math.floor(i / 4)] + 'px';
      el.innerHTML = '<i style="background:' + colors[i] + '"></i>' + name;
      page.appendChild(el);
    });
  }
  buildLegend(namesA, colorsA, legendA);
  buildLegend(namesB, colorsB, legendB);
</script>
</body>
</html>
